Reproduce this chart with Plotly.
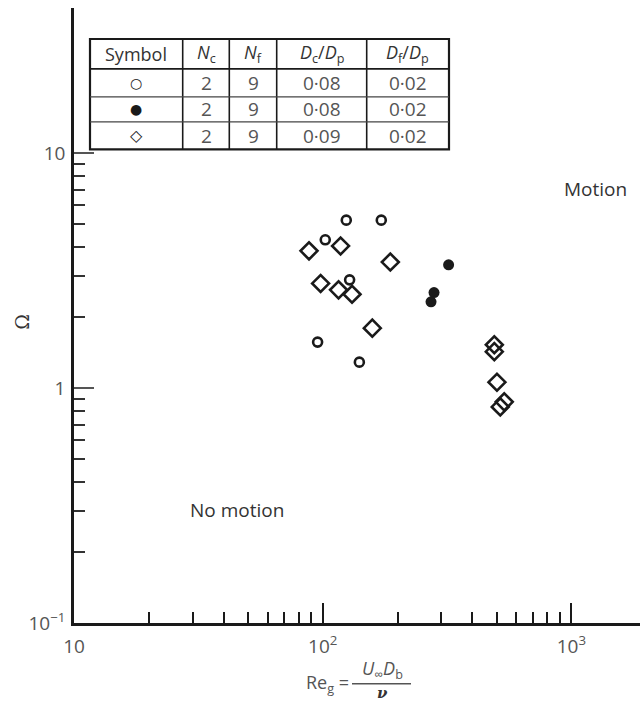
import plotly.graph_objects as go

# ---- data ----
re_open = [124.4, 172.0, 102.4, 128.3, 95.4, 140.4]
om_open = [5.19, 5.19, 4.28, 2.89, 1.57, 1.29]

re_filled = [320.8, 280.3, 272.6]
om_filled = [3.35, 2.55, 2.33]

re_diam = [88.1, 118.0, 187.0, 98.1, 115.8, 131.2, 158.3, 489.8, 489.8, 502.0, 517.6, 537.0]
om_diam = [3.84, 4.03, 3.44, 2.79, 2.62, 2.51, 1.80, 1.53, 1.43, 1.06, 0.832, 0.874]

x_tickvals = [10, 100, 1000]
x_ticktext = ["10", "10<sup>2</sup>", "10<sup>3</sup>"]
x_minor = [20, 30, 40, 50, 60, 70, 80, 90, 200, 300, 400, 500, 600, 700, 800, 900]
y_tickvals = [0.1, 1, 10]
y_ticktext = ["10<sup>−1</sup>", "1", "10"]
y_minor = [0.2, 0.3, 0.4, 0.5, 0.6, 0.7, 0.8, 0.9, 2, 3, 4, 5, 6, 7, 8, 9]

table_header = ["Symbol", "<i>N</i><sub>c</sub>", "<i>N</i><sub>f</sub>",
                "<i>D</i><sub>c</sub>/<i>D</i><sub>p</sub>", "<i>D</i><sub>f</sub>/<i>D</i><sub>p</sub>"]
table_symbols = ["○", "●", "◇"]
table_nc = ["2", "2", "2"]
table_nf = ["9", "9", "9"]
table_dc = ["0·08", "0·08", "0·09"]
table_df = ["0·02", "0·02", "0·02"]

# ---- layout geometry (pixels) ----
W, H = 640, 701
L, R, T, B = 74, 640, 8, 623.3
PW, PH = R - L, B - T


def px(x):
    return (x - L) / PW


def py(y):
    return (B - y) / PH


INK = "#1a1a1a"
GREY = "#555555"
FONT = "Open Sans"

fig = go.Figure()
fig.add_trace(go.Scatter(x=re_open, y=om_open, mode="markers",
                         marker=dict(symbol="circle-open", size=9, color=INK, line=dict(width=2.6)),
                         showlegend=False))
fig.add_trace(go.Scatter(x=re_filled, y=om_filled, mode="markers",
                         marker=dict(symbol="circle", size=11, color=INK, line=dict(width=0)),
                         showlegend=False))
fig.add_trace(go.Scatter(x=re_diam, y=om_diam, mode="markers",
                         marker=dict(symbol="diamond-open", size=13, color=INK, line=dict(width=2.6)),
                         showlegend=False))

fig.update_layout(
    width=W, height=H,
    margin=dict(l=L, r=W - R, t=T, b=H - B),
    paper_bgcolor="white", plot_bgcolor="white",
    font=dict(family=FONT, color=GREY, size=18),
    xaxis=dict(type="log", range=[1, 1 + (R - L) / 248.7],
               showline=True, linecolor=INK, linewidth=2.5, showgrid=False, zeroline=False,
               tickmode="array", tickvals=x_tickvals, ticktext=x_ticktext,
               ticks="inside", ticklen=20, tickwidth=2, tickcolor=INK,
               ticklabelstandoff=4,
               minor=dict(tickmode="array", tickvals=x_minor, ticks="inside", ticklen=11,
                          tickwidth=1.6, tickcolor=INK, showgrid=False),
               tickfont=dict(size=19, color=GREY)),
    yaxis=dict(type="log", range=[-1, (388.3 - T) / 235],
               showline=True, linecolor=INK, linewidth=2.5, showgrid=False, zeroline=False,
               tickmode="array", tickvals=y_tickvals, ticktext=y_ticktext,
               ticks="inside", ticklen=20, tickwidth=2, tickcolor=GREY,
               ticklabelstandoff=2,
               minor=dict(tickmode="array", tickvals=y_minor, ticks="inside", ticklen=11,
                          tickwidth=1.8, tickcolor="#333333", showgrid=False),
               tickfont=dict(size=19, color=GREY)),
)

ann = []
shapes = []

# region labels
ann.append(dict(x=px(595), y=py(189), text="Motion", showarrow=False,
                font=dict(size=19, color="#333333")))
ann.append(dict(x=px(237), y=py(510), text="No motion", showarrow=False,
                font=dict(size=19, color="#333333")))

# y axis title
ann.append(dict(x=px(22), y=py(322), text="Ω", showarrow=False, textangle=-90,
                font=dict(size=19, color="#333333", family="DejaVu Serif")))

# x axis title
ann.append(dict(x=px(327), y=py(684), text="Re<sub>g</sub> =", showarrow=False,
                font=dict(size=18, color=GREY)))
ann.append(dict(x=px(382), y=py(670), text="<i>U</i><sub>∞</sub><i>D</i><sub>b</sub>", showarrow=False,
                font=dict(size=18, color=GREY)))
ann.append(dict(x=px(382), y=py(693), text="<b><i>ν</i></b>", showarrow=False,
                font=dict(size=15, color="#333333", family="DejaVu Serif")))
shapes.append(dict(type="line", xref="paper", yref="paper", x0=px(352), x1=px(411),
                   y0=py(684), y1=py(684), line=dict(color=GREY, width=1.5)))

# table
col_edges = [90, 182.7, 229.3, 276.7, 366.7, 449]
row_edges = [39, 69, 97, 122, 149.5]
shapes.append(dict(type="rect", xref="paper", yref="paper", x0=px(col_edges[0]), x1=px(col_edges[-1]),
                   y0=py(row_edges[0]), y1=py(row_edges[-1]), line=dict(color=INK, width=2.2),
                   fillcolor="white", layer="above"))
for xe in col_edges[1:-1]:
    shapes.append(dict(type="line", xref="paper", yref="paper", x0=px(xe), x1=px(xe),
                       y0=py(row_edges[0]), y1=py(row_edges[-1]), line=dict(color=INK, width=1.6)))
for i, ye in enumerate(row_edges[1:-1]):
    shapes.append(dict(type="line", xref="paper", yref="paper", x0=px(col_edges[0]), x1=px(col_edges[-1]),
                       y0=py(ye), y1=py(ye), line=dict(color=INK if i == 0 else "#444444",
                                                       width=1.8 if i == 0 else 1.3)))

col_c = [(col_edges[i] + col_edges[i + 1]) / 2 for i in range(5)]
row_c = [(row_edges[i] + row_edges[i + 1]) / 2 for i in range(4)]
for j, h in enumerate(table_header):
    ann.append(dict(x=px(col_c[j]), y=py(row_c[0]), text=h, showarrow=False,
                    font=dict(size=18, color="#333333")))
for i in range(3):
    cells = [table_symbols[i], table_nc[i], table_nf[i], table_dc[i], table_df[i]]
    for j, c in enumerate(cells):
        if j == 0:
            ann.append(dict(x=px(col_c[j]), y=py(row_c[i + 1]), text="<b>" + c + "</b>", showarrow=False,
                            font=dict(size=14 if i != 2 else 16, color=INK, family="DejaVu Sans")))
        else:
            ann.append(dict(x=px(col_c[j]), y=py(row_c[i + 1]), text=c, showarrow=False,
                            font=dict(size=19, color=GREY)))

for a in ann:
    a.setdefault("xref", "paper")
    a.setdefault("yref", "paper")
    a.setdefault("xanchor", "center")
    a.setdefault("yanchor", "middle")
fig.update_layout(annotations=ann, shapes=shapes)

fig.write_html("out.html")
